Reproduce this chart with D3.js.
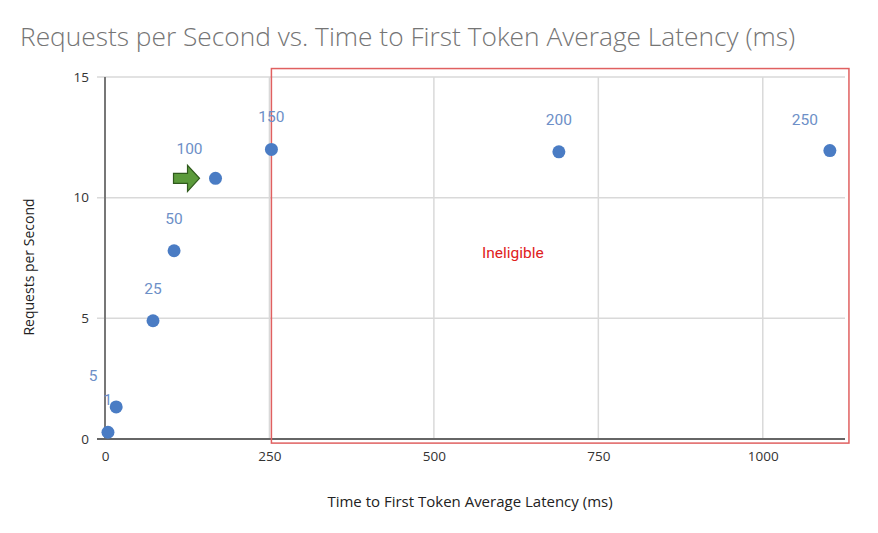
<!DOCTYPE html>
<head>
    <meta charset="utf-8">
    <title>Requests per Second vs. Time to First Token Average Latency</title>
    <style>
        body { margin: 0; background: #fff; }
        text { font-family: "Open Sans", "Liberation Sans", sans-serif; }
    </style>
</head>
<body>

<svg width="878" height="533"></svg>

<script src="https://d3js.org/d3.v7.min.js"></script>

<script>

    // concurrency levels, shown as point labels
    var concurrency = [1, 5, 25, 50, 100, 150, 200, 250];
    // x: time to first token average latency (ms)
    var latency = [4.5, 17, 73, 105, 168, 253, 690, 1102];
    // y: requests per second
    var rps = [0.28, 1.33, 4.9, 7.8, 10.8, 12.0, 11.9, 11.95];

    var xTicks = [0, 250, 500, 750, 1000];
    var yTicks = [0, 5, 10, 15];

    // the ineligible region, in data units: [x0, x1, y0, y1]
    var ineligible = [253, 1131, -0.17, 15.35];

    var svg = d3.select("svg");

    var x = d3.scaleLinear().domain([0, 1125]).range([105, 845]);
    var y = d3.scaleLinear().domain([0, 15]).range([439, 77]);

    // title
    svg.append("text")
        .attr("x", 20)
        .attr("y", 46)
        .attr("font-size", 26.3)
        .attr("font-weight", 300)
        .attr("fill", "#757575")
        .text("Requests per Second vs. Time to First Token Average Latency (ms)");

    // gridlines
    svg.append("g")
        .selectAll("line.h")
        .data(yTicks.filter(function(d) { return d > 0; }))
        .enter().append("line")
            .attr("x1", x(0) - 8)
            .attr("x2", x(1125))
            .attr("y1", function(d) { return y(d); })
            .attr("y2", function(d) { return y(d); })
            .attr("stroke", "#d9d9d9")
            .attr("stroke-width", 1.5);

    svg.append("g")
        .selectAll("line.v")
        .data(xTicks.filter(function(d) { return d > 0; }))
        .enter().append("line")
            .attr("x1", function(d) { return x(d); })
            .attr("x2", function(d) { return x(d); })
            .attr("y1", y(15))
            .attr("y2", y(0))
            .attr("stroke", "#d9d9d9")
            .attr("stroke-width", 1.5);

    // axes
    var xAxis = svg.append("g")
        .attr("transform", "translate(0," + y(0) + ")")
        .call(d3.axisBottom(x).tickValues(xTicks).tickFormat(d3.format("d"))
            .tickSize(0).tickPadding(12));

    var yAxis = svg.append("g")
        .attr("transform", "translate(" + x(0) + ",0)")
        .call(d3.axisLeft(y).tickValues(yTicks).tickSize(0).tickPadding(16));

    [xAxis, yAxis].forEach(function(a) {
        a.select(".domain").remove();
        a.selectAll("text")
            .attr("font-size", 13.5)
            .attr("fill", "#333")
            .style("font-family", "'Open Sans', sans-serif");
    });

    svg.append("line")
        .attr("x1", x(0)).attr("x2", x(0))
        .attr("y1", y(15)).attr("y2", y(0))
        .attr("stroke", "#777").attr("stroke-width", 2);

    svg.append("line")
        .attr("x1", x(0) - 8).attr("x2", x(1125))
        .attr("y1", y(0)).attr("y2", y(0))
        .attr("stroke", "#666").attr("stroke-width", 2);

    // axis titles
    svg.append("text")
        .attr("transform", "translate(34," + 267 + ") rotate(-90)")
        .attr("text-anchor", "middle")
        .attr("font-size", 14)
        .attr("fill", "#222")
        .text("Requests per Second");

    svg.append("text")
        .attr("x", 470)
        .attr("y", 507)
        .attr("text-anchor", "middle")
        .attr("font-size", 15)
        .attr("fill", "#222")
        .text("Time to First Token Average Latency (ms)");

    // ineligible box
    svg.append("rect")
        .attr("x", x(ineligible[0]))
        .attr("y", y(ineligible[3]))
        .attr("width", x(ineligible[1]) - x(ineligible[0]))
        .attr("height", y(ineligible[2]) - y(ineligible[3]))
        .attr("fill", "none")
        .attr("stroke", "#e06060")
        .attr("stroke-width", 1.5);

    svg.append("text")
        .attr("x", x(620))
        .attr("y", y(7.48))
        .attr("text-anchor", "middle")
        .attr("font-size", 15.5)
        .attr("fill", "#e02020")
        .style("font-family", "Roboto, sans-serif")
        .text("Ineligible");

    var points = concurrency.map(function(c, i) {
        return { c: c, x: latency[i], y: rps[i] };
    });

    // label nudges (px) where the labels sit off the default spot
    var nudge = { 1: [0, -27], 5: [-23, -26], 100: [-26, -24], 250: [-25, -26] };

    svg.append("g")
        .selectAll("text")
        .data(points)
        .enter().append("text")
            .attr("x", function(d) { return x(d.x) + (nudge[d.c] ? nudge[d.c][0] : 0); })
            .attr("y", function(d) { return y(d.y) + (nudge[d.c] ? nudge[d.c][1] : -27); })
            .attr("text-anchor", "middle")
            .attr("font-size", 15.5)
            .attr("fill", "#6d8fc7")
            .style("font-family", "Roboto, sans-serif")
            .text(function(d) { return d.c; });

    // points
    svg.append("g")
        .selectAll("circle")
        .data(points)
        .enter().append("circle")
            .attr("cx", function(d) { return x(d.x); })
            .attr("cy", function(d) { return y(d.y); })
            .attr("r", 6.5)
            .attr("fill", "#4a7cc4");

    // green arrow pointing at the 100 point
    var target = points[4];
    var ax = x(target.x) - 42, ay = y(target.y);
    svg.append("path")
        .attr("d", "M" + ax + "," + (ay - 5) +
                   "h14v-8l12,13l-12,13v-8h-14z")
        .attr("fill", "#5b9a3b")
        .attr("stroke", "#2f5a1c")
        .attr("stroke-width", 1.2);

</script>
</body>
